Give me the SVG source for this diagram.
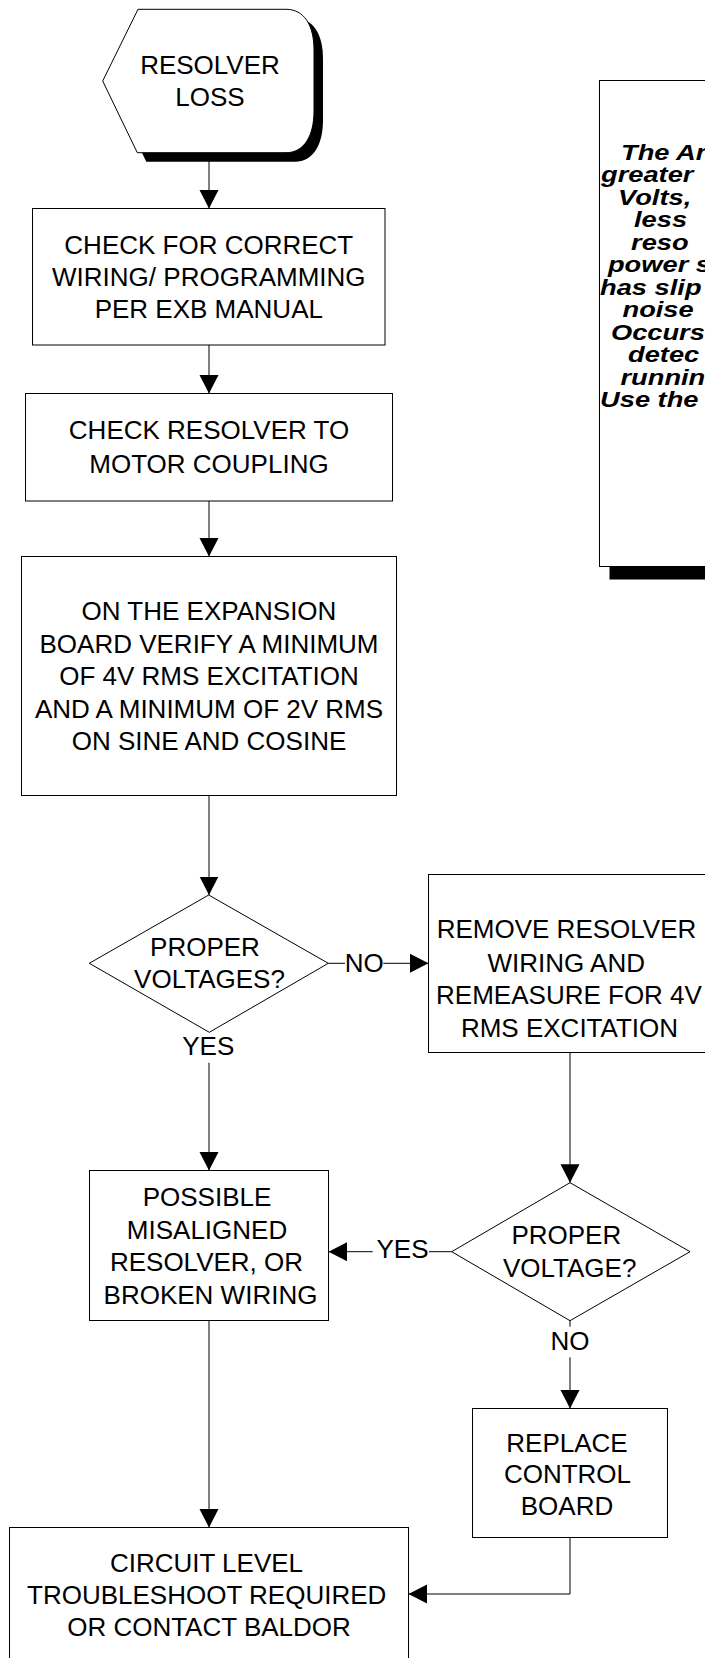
<svg xmlns="http://www.w3.org/2000/svg" width="705" height="1658" viewBox="0 0 705 1658">
<style>
.box{fill:#fff;stroke:#000;stroke-width:1}
.sh{fill:#000;stroke:none}
.t{font-family:"Liberation Sans",Arial,sans-serif;font-size:26px;fill:#000;text-anchor:middle}
.n{font-family:"Liberation Sans",Arial,sans-serif;font-size:22px;font-weight:bold;font-style:italic;fill:#000}
.c{fill:none;stroke:#000;stroke-width:1}
.ah{fill:#000;stroke:none}
</style>
<defs>
<marker id="arr" markerUnits="userSpaceOnUse" markerWidth="19" markerHeight="20" refX="18.5" refY="9.5" orient="auto">
<path class="ah" d="M0,0 L18.5,9.5 L0,19 Z"/>
</marker>
</defs>
<rect width="705" height="1658" fill="#fff"/>

<g id="note">
<rect class="sh" x="609.5" y="91.5" width="110" height="488"/>
<rect class="box" x="599.5" y="80.5" width="120" height="486"/>
<g transform="scale(1.24,1)">
<text class="n" x="500.8" y="160">The Ar</text>
<text class="n" x="484.7" y="182.5">greater</text>
<text class="n" x="498.4" y="205">Volts,</text>
<text class="n" x="511.3" y="227.5">less</text>
<text class="n" x="508.9" y="250">reso</text>
<text class="n" x="490.3" y="272.5">power s</text>
<text class="n" x="483.9" y="295">has slip</text>
<text class="n" x="502" y="317.5">noise</text>
<text class="n" x="492.7" y="340">Occurs</text>
<text class="n" x="506.5" y="362.5">detec</text>
<text class="n" x="500.4" y="385">runnin</text>
<text class="n" x="483.9" y="407.5">Use the</text>
</g>
</g>

<g id="start">
<path class="sh" transform="translate(9,9)" d="M138,9.3 H286 C304,9.3 314,25 314,50 V111 C314,136 304,152.7 286,152.7 H137.3 L102.7,81 Z"/>
<path class="box" d="M138,9.3 H286 C304,9.3 314,25 314,50 V111 C314,136 304,152.7 286,152.7 H137.3 L102.7,81 Z"/>
<text class="t" x="210" y="74">RESOLVER</text>
<text class="t" x="210" y="106">LOSS</text>
</g>

<g id="box1">
<rect class="box" x="32.5" y="208.5" width="352.5" height="136.5"/>
<text class="t" x="208.8" y="254">CHECK FOR CORRECT</text>
<text class="t" x="208.8" y="286">WIRING/ PROGRAMMING</text>
<text class="t" x="208.8" y="318.3">PER EXB MANUAL</text>
</g>

<g id="box2">
<rect class="box" x="25.5" y="393.5" width="367" height="107.5"/>
<text class="t" x="209" y="439.3">CHECK RESOLVER TO</text>
<text class="t" x="209" y="472.7">MOTOR COUPLING</text>
</g>

<g id="box3">
<rect class="box" x="21.5" y="556.5" width="375" height="239"/>
<text class="t" x="209" y="620">ON THE EXPANSION</text>
<text class="t" x="209" y="652.5">BOARD VERIFY A MINIMUM</text>
<text class="t" x="209" y="685">OF 4V RMS EXCITATION</text>
<text class="t" x="209" y="717.5">AND A MINIMUM OF 2V RMS</text>
<text class="t" x="209" y="750">ON SINE AND COSINE</text>
</g>

<g id="dec1">
<path class="box" d="M208.7,895 L328.3,963.3 L209.3,1032.3 L89.3,963.3 Z"/>
<text class="t" x="205" y="955.7">PROPER</text>
<text class="t" x="209.5" y="988.3">VOLTAGES?</text>
</g>

<g id="box4">
<rect class="box" x="428.5" y="874.5" width="280" height="178"/>
<text class="t" x="566.5" y="938.3">REMOVE RESOLVER</text>
<text class="t" x="566.3" y="971.7">WIRING AND</text>
<text class="t" x="569" y="1003.8">REMEASURE FOR 4V</text>
<text class="t" x="569.5" y="1036.7">RMS EXCITATION</text>
</g>

<g id="dec2">
<path class="box" d="M570,1182.7 L690,1251.7 L570,1320.7 L451.7,1251.7 Z"/>
<text class="t" x="566.3" y="1244">PROPER</text>
<text class="t" x="569.7" y="1276.7">VOLTAGE?</text>
</g>

<g id="box5">
<rect class="box" x="89.5" y="1170.5" width="239" height="150"/>
<text class="t" x="207" y="1206">POSSIBLE</text>
<text class="t" x="207" y="1238.5">MISALIGNED</text>
<text class="t" x="206.5" y="1271">RESOLVER, OR</text>
<text class="t" x="210.5" y="1303.5">BROKEN WIRING</text>
</g>

<g id="box6">
<rect class="box" x="472.5" y="1408.5" width="195" height="129"/>
<text class="t" x="567" y="1451.7">REPLACE</text>
<text class="t" x="567.5" y="1483.3">CONTROL</text>
<text class="t" x="567" y="1515">BOARD</text>
</g>

<g id="box7">
<rect class="box" x="9.5" y="1527.5" width="399" height="140"/>
<text class="t" x="206.5" y="1572.3">CIRCUIT LEVEL</text>
<text class="t" x="206.7" y="1604">TROUBLESHOOT REQUIRED</text>
<text class="t" x="209" y="1636">OR CONTACT BALDOR</text>
</g>

<g id="connectors">
<path class="c" d="M209,161 V208.5" marker-end="url(#arr)"/>
<path class="c" d="M209,345 V393.5" marker-end="url(#arr)"/>
<path class="c" d="M209,501 V556.5" marker-end="url(#arr)"/>
<path class="c" d="M209,795.5 V895" marker-end="url(#arr)"/>
<path class="c" d="M328.3,963.3 H345"/>
<path class="c" d="M383.3,963.3 H428.5" marker-end="url(#arr)"/>
<path class="c" d="M209,1062.7 V1170.5" marker-end="url(#arr)"/>
<path class="c" d="M570,1052.5 V1182.7" marker-end="url(#arr)"/>
<path class="c" d="M451.7,1251.7 H429"/>
<path class="c" d="M372.7,1251.7 H328.5" marker-end="url(#arr)"/>
<path class="c" d="M570,1320.7 V1326.7"/>
<path class="c" d="M570,1357.3 V1408.5" marker-end="url(#arr)"/>
<path class="c" d="M209,1320.5 V1527.5" marker-end="url(#arr)"/>
<path class="c" d="M570,1537.5 V1594 H408.5" marker-end="url(#arr)"/>
<text class="t" x="364.2" y="971.7">NO</text>
<text class="t" x="208.3" y="1055">YES</text>
<text class="t" x="402.5" y="1258.3">YES</text>
<text class="t" x="570" y="1350">NO</text>
</g>
</svg>
